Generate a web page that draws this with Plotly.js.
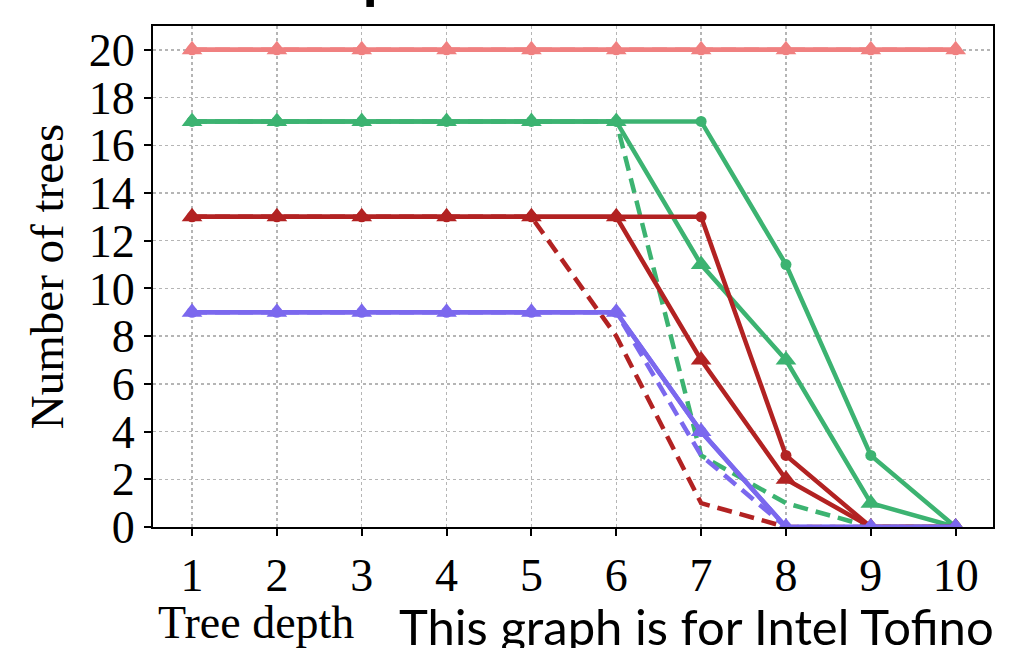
<!DOCTYPE html>
<html>
<head>
<meta charset="utf-8">
<script src="https://cdn.plot.ly/plotly-3.0.1.min.js"></script>
<style>html,body{margin:0;padding:0;background:#fff;}#chart{width:1010px;height:648px;}</style>
</head>
<body>
<div id="chart"></div>
<script>
const depths = [1, 2, 3, 4, 5, 6, 7, 8, 9, 10];
const tickLabels = ["1", "2", "3", "4", "5", "6", "7", "8", "9", "10"];

// pink (lightcoral) group
const pinkCircle   = [20, 20, 20, 20, 20, 20, 20, 20, 20, 20];
const pinkTriangle = [20, 20, 20, 20, 20, 20, 20, 20, 20, 20];
const pinkDashed   = [20, 20, 20, 20, 20, 20, 20, 20, 20, 20];
// green (mediumseagreen) group
const greenCircle   = [17, 17, 17, 17, 17, 17, 17, 11, 3, 0];
const greenTriangle = [17, 17, 17, 17, 17, 17, 11, 7, 1, 0];
const greenDashed   = [17, 17, 17, 17, 17, 17, 3, 1, 0, 0];
// red (firebrick) group
const redCircle   = [13, 13, 13, 13, 13, 13, 13, 3, 0, 0];
const redTriangle = [13, 13, 13, 13, 13, 13, 7, 2, 0, 0];
const redDashed   = [13, 13, 13, 13, 13, 8, 1, 0, 0, 0];
// purple (mediumslateblue) group
const purpleCircle   = [9, 9, 9, 9, 9, 9, 4, 0, 0, 0];
const purpleTriangle = [9, 9, 9, 9, 9, 9, 4, 0, 0, 0];
const purpleDashed   = [9, 9, 9, 9, 9, 9, 3, 0, 0, 0];

const yTicks = [0, 2, 4, 6, 8, 10, 12, 14, 16, 18, 20];

const groups = [
  {color: '#F08080', c: pinkCircle, t: pinkTriangle, d: pinkDashed},
  {color: '#3CB371', c: greenCircle, t: greenTriangle, d: greenDashed},
  {color: '#B22222', c: redCircle, t: redTriangle, d: redDashed},
  {color: '#7B68EE', c: purpleCircle, t: purpleTriangle, d: purpleDashed}
];

const traces = [];
groups.forEach(g => {
  traces.push({x: depths, y: g.d, mode: 'lines', type: 'scatter',
    line: {color: g.color, width: 4.5, dash: '15px,8px'}, hoverinfo: 'skip'});
  traces.push({x: depths, y: g.c, mode: 'lines+markers', type: 'scatter',
    line: {color: g.color, width: 4.5}, marker: {symbol: 'circle', size: 11, color: g.color}});
  traces.push({x: depths, y: g.t, mode: 'lines+markers', type: 'scatter',
    line: {color: g.color, width: 4.5}, marker: {symbol: 'triangle-up', size: 18, color: g.color}});
});

const serif = 'Liberation Serif, Times New Roman, serif';

const layout = {
  width: 1010, height: 648,
  margin: {l: 153, r: 17, t: 26, b: 121},
  paper_bgcolor: '#fff', plot_bgcolor: '#fff',
  showlegend: false,
  xaxis: {
    range: [0.54, 10.44], tickvals: depths, ticktext: tickLabels,
    showline: true, mirror: true, linecolor: '#000', linewidth: 2,
    ticks: 'outside', ticklen: 7, tickwidth: 2, tickcolor: '#000',
    showgrid: true, gridcolor: '#b5b5b5', gridwidth: 1.5, griddash: 'dot',
    zeroline: false,
    tickfont: {family: serif, size: 46, color: '#000'}
  },
  yaxis: {
    range: [0, 21], tickvals: yTicks,
    showline: true, mirror: true, linecolor: '#000', linewidth: 2,
    ticks: 'outside', ticklen: 7, tickwidth: 2, tickcolor: '#000',
    showgrid: true, gridcolor: '#b5b5b5', gridwidth: 1.5, griddash: 'dot',
    zeroline: false,
    tickfont: {family: serif, size: 46, color: '#000'},
    title: {text: 'Number of trees', font: {family: serif, size: 47, color: '#000'}, standoff: 10}
  },
  annotations: [
    {text: 'Tree depth', xref: 'paper', yref: 'paper', x: 0.004, y: -0.19,
     xanchor: 'left', yanchor: 'middle', showarrow: false,
     font: {family: serif, size: 46, color: '#000'}},
    {text: 'This graph is for Intel Tofino', xref: 'paper', yref: 'paper', x: 1.003, y: -0.135,
     xanchor: 'right', yanchor: 'top', showarrow: false,
     font: {family: 'Lato, Open Sans, sans-serif', size: 49, color: '#000'}}
  ],
  shapes: [
    {type: 'rect', xref: 'paper', yref: 'paper', x0: 0.254, x1: 0.263, y0: 1.038, y1: 1.06,
     fillcolor: '#000', line: {width: 0}}
  ]
};

Plotly.newPlot('chart', traces, layout, {displayModeBar: false, staticPlot: true});
</script>
</body>
</html>
